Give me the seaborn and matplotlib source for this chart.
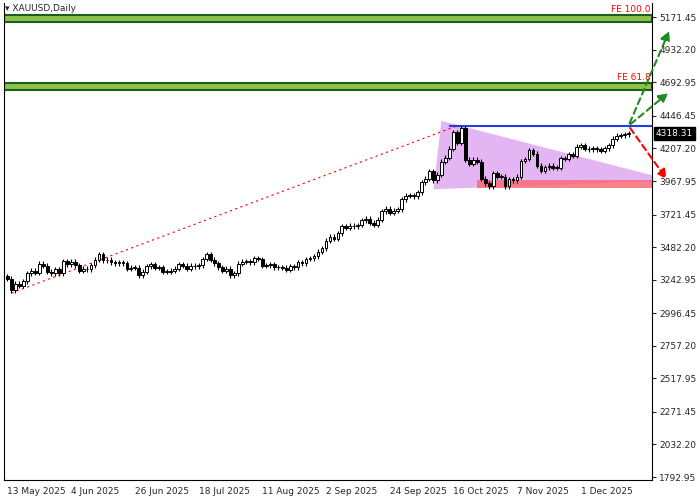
import numpy as np
import pandas as pd
import matplotlib
matplotlib.use("Agg")
import matplotlib.pyplot as plt
import seaborn as sns
from matplotlib.patches import Polygon, Rectangle

# closes, daily, 13 May 2025 .. 17 Dec 2025
closes = [3250, 3165, 3215, 3200,
          3230, 3290, 3310, 3295, 3360,
          3345, 3300, 3290, 3320, 3290,
          3380, 3355, 3375, 3350, 3310,
          3325, 3320, 3350, 3390, 3430,
          3385, 3390, 3370, 3365, 3370,
          3365, 3325, 3330, 3330, 3275,
          3300, 3340, 3355, 3330, 3335,
          3300, 3300, 3310, 3325, 3355,
          3345, 3325, 3345, 3340, 3350,
          3395, 3430, 3390, 3365, 3335,
          3310, 3325, 3275, 3290, 3360,
          3375, 3380, 3370, 3400, 3395,
          3345, 3350, 3355, 3335, 3335,
          3330, 3315, 3340, 3335, 3370,
          3365, 3395, 3400, 3415, 3450,
          3475, 3530, 3560, 3545, 3585,
          3635, 3625, 3640, 3635, 3645,
          3680, 3690, 3660, 3645, 3685,
          3745, 3765, 3735, 3750, 3760,
          3835, 3860, 3865, 3855, 3885,
          3960, 3985, 4040, 3975, 4015,
          4110, 4140, 4205, 4325, 4250,
          4355, 4125, 4095, 4125, 4110,
          3985, 3950, 3930, 4025, 4000,
          4000, 3930, 3980, 3975, 4000,
          4115, 4130, 4195, 4170, 4080,
          4045, 4070, 4080, 4065, 4065,
          4135, 4130, 4165, 4155, 4220,
          4230, 4205, 4200, 4210, 4200,
          4190, 4210, 4230, 4280, 4300,
          4305, 4310, 4318.31]
first_open = 3270
wick = 18

date_idx = [0, 16, 32, 48, 64, 80, 96, 112, 128, 144]
date_labels = ["13 May 2025", "4 Jun 2025", "26 Jun 2025", "18 Jul 2025", "11 Aug 2025",
               "2 Sep 2025", "24 Sep 2025", "16 Oct 2025", "7 Nov 2025", "1 Dec 2025"]
price_ticks = [1792.95, 2032.20, 2271.45, 2517.95, 2757.20, 2996.45, 3242.95, 3482.20,
               3721.45, 3967.95, 4207.20, 4446.45, 4692.95, 4932.20, 5171.45]

fe_levels = [(4640, 4690, "FE 61.8"), (5140, 5188, "FE 100.0")]
resistance = 4374
support = (3918, 3972)
triangle = [(107, 3908), (109, 4410), (167, 3972)]
trend_start, trend_end = (1, 3145), (113, 4374)
arrow_start = 156
arrow_targets = [(166.5, 5090, "#1f8a1f"), (166.5, 4628, "#1f8a1f"), (166, 3965, "red")]
last_price = 4318.31

df = pd.DataFrame({"close": closes})
df["open"] = [first_open] + closes[:-1]
df["high"] = df[["open", "close"]].max(axis=1) + wick
df["low"] = df[["open", "close"]].min(axis=1) - wick
df["x"] = np.arange(len(df))
n = len(df)

sns.set_style("white")
plt.rcParams["font.family"] = ["DejaVu Sans"]
fig = plt.figure(figsize=(7, 5), dpi=100)
ax = fig.add_axes([0.005, 0.04, 0.927, 0.955])
xmax = n + 5
ax.set_xlim(-1, xmax)
ax.set_ylim(1771, 5280)

# pattern objects (behind candles)
ax.add_patch(Polygon(triangle, closed=True, color="#dc9cf0", alpha=0.75, lw=0, zorder=1))
ax.add_patch(Rectangle((118, support[0]), xmax - 118, support[1] - support[0],
                       color="#f76b78", alpha=0.85, lw=0, zorder=1))
for lo, hi, lab in fe_levels:
    ax.add_patch(Rectangle((-1, lo), xmax + 1, hi - lo, facecolor="#8bc34a",
                           edgecolor="#1b5e20", lw=1.5, zorder=1))
    ax.text(xmax - 0.5, hi + 5, lab, color="red", fontsize=6.5, ha="right", va="bottom")
ax.hlines(resistance, 111, xmax, color="#1f3fe0", lw=1.5, zorder=2)
ax.plot([trend_start[0], trend_end[0]], [trend_start[1], trend_end[1]],
        color="red", ls=(0, (2, 3)), lw=0.8, zorder=2)

# candles
for _, r in df.iterrows():
    ax.vlines(r.x, r.low, r.high, color="black", lw=0.8, zorder=3)
    up = r.close >= r.open
    body = max(abs(r.close - r.open), 4)
    ax.add_patch(Rectangle((r.x - 0.35, min(r.open, r.close)), 0.7, body,
                           facecolor="white" if up else "black", edgecolor="black",
                           lw=0.7, zorder=4))

# projection arrows
for tx, ty, c in arrow_targets:
    ax.annotate("", xy=(tx, ty), xytext=(arrow_start, resistance),
                arrowprops=dict(arrowstyle="-|>", color=c, lw=1.5, ls=(0, (3, 2)),
                                mutation_scale=14), zorder=5, annotation_clip=False)

# axes
ax.yaxis.tick_right()
ax.set_yticks(price_ticks)
ax.set_yticklabels([f"{p:.2f}" for p in price_ticks], fontsize=6.5)
ax.tick_params(axis="y", length=3, pad=2, direction="out")
ax.set_xticks(date_idx)
ax.set_xticklabels(date_labels, fontsize=6.5, ha="left")
ax.tick_params(axis="x", length=3, pad=2)
for s in ax.spines.values():
    s.set_color("black")
    s.set_linewidth(0.8)
ax.spines["top"].set_visible(False)
ax.text(1.005, last_price, f"{last_price:.2f}", transform=ax.get_yaxis_transform(),
        fontsize=6.5, va="center", color="white",
        bbox=dict(facecolor="black", edgecolor="black", pad=1.5), clip_on=False)
ax.text(0.003, 0.997, "\u25be XAUUSD,Daily", transform=ax.transAxes, fontsize=6.5,
        va="top", ha="left")

fig.savefig("out.png", dpi=100)
